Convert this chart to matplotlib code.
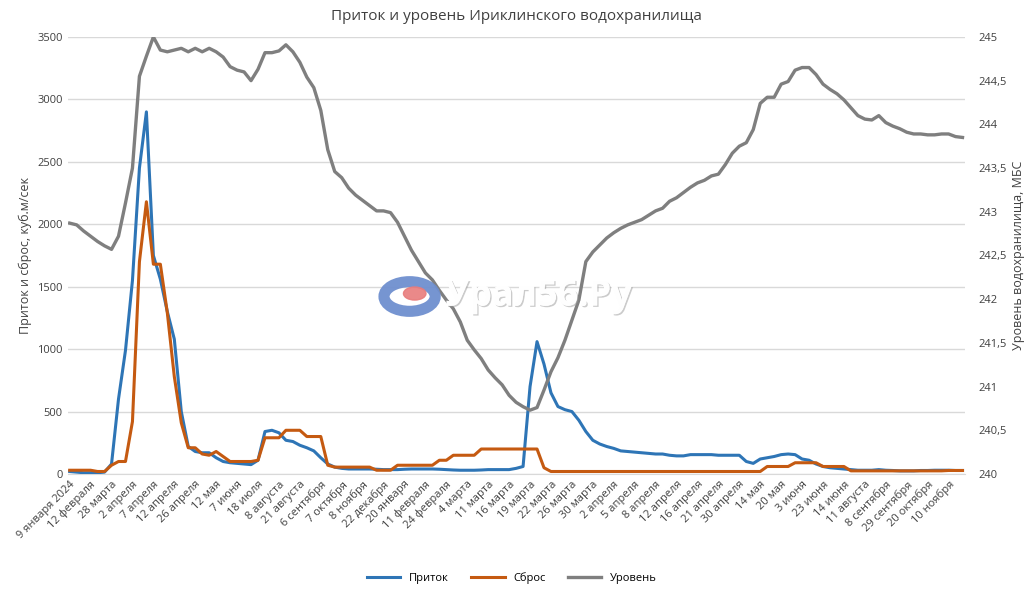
import matplotlib
matplotlib.use("Agg")
import matplotlib.pyplot as plt
import matplotlib.patheffects as pe
import numpy as np

plt.rcParams['font.family'] = ['Open Sans', 'DejaVu Sans']

tick_labels = ["9 января 2024", "12 февраля", "28 марта", "2 апреля", "7 апреля", "12 апреля", "26 апреля",
    "12 мая", "7 июня", "18 июля", "8 августа", "21 августа", "6 сентября", "7 октября", "8 ноября",
    "22 декабря", "20 января", "11 февраля", "24 февраля", "4 марта", "11 марта", "16 марта", "19 марта",
    "22 марта", "26 марта", "30 марта", "2 апреля", "5 апреля", "8 апреля", "12 апреля", "16 апреля",
    "21 апреля", "30 апреля", "14 мая", "20 мая", "3 июня", "23 июня", "14 июня", "11 августа",
    "8 сентября", "29 сентября", "20 октября", "10 ноября"]

inflow = [20, 15, 10, 10, 10, 15, 80, 600, 990, 1550, 2450, 2900, 1750, 1560, 1300, 1080, 500, 220, 180, 170,
    170, 130, 100, 90, 85, 80, 75, 110, 340, 350, 330, 270, 260, 230, 210, 185, 130, 80, 55, 45,
    40, 40, 40, 40, 38, 35, 35, 35, 38, 40, 40, 40, 40, 38, 35, 32, 30, 30, 30, 32, 35, 35, 35, 35,
    45, 60, 700, 1060, 880, 650, 540, 515, 500, 430, 340, 270, 240, 220, 205, 185, 180, 175, 170, 165,
    160, 160, 150, 145, 145, 155, 155, 155, 155, 150, 150, 150, 150, 100, 85, 120, 130, 140, 155, 160,
    155, 120, 110, 80, 60, 50, 45, 40, 35, 30, 30, 30, 35, 30, 28, 25, 25, 25, 28, 28, 30, 30, 30, 28, 28]

discharge = [30, 30, 30, 30, 20, 20, 70, 100, 100, 420, 1700, 2180, 1680, 1680, 1290, 780, 410, 210, 210, 160,
    150, 180, 140, 100, 100, 100, 100, 110, 290, 290, 290, 350, 350, 350, 300, 300, 300, 70, 55, 55,
    55, 55, 55, 55, 30, 30, 30, 70, 70, 70, 70, 70, 70, 110, 110, 150, 150, 150, 150, 200,
    200, 200, 200, 200, 200, 200, 200, 200, 50, 20, 20, 20, 20, 20, 20, 20, 20, 20, 20, 20,
    20, 20, 20, 20, 20, 20, 20, 20, 20, 20, 20, 20, 20, 20, 20, 20, 20, 20, 20, 20,
    60, 60, 60, 60, 90, 90, 90, 90, 60, 60, 60, 60, 25, 25, 25, 25, 25, 25, 25, 25,
    25, 25, 25, 25, 25, 25, 28, 28, 28]

level = [242.87, 242.85, 242.78, 242.72, 242.66, 242.61, 242.57, 242.72, 243.1, 243.5, 244.55, 244.78, 245.0,
    244.85, 244.83, 244.85, 244.87, 244.83, 244.87, 244.83, 244.87, 244.83, 244.77, 244.66, 244.62, 244.6,
    244.5, 244.63, 244.82, 244.82, 244.84, 244.91, 244.83, 244.71, 244.54, 244.42, 244.16, 243.71, 243.46,
    243.39, 243.27, 243.19, 243.13, 243.07, 243.01, 243.01, 242.99, 242.88, 242.72, 242.56, 242.43, 242.3,
    242.22, 242.1, 241.99, 241.89, 241.74, 241.53, 241.42, 241.32, 241.19, 241.1, 241.02, 240.9, 240.82,
    240.77, 240.73, 240.76, 240.96, 241.17, 241.33, 241.53, 241.76, 241.99, 242.43, 242.54, 242.62, 242.7,
    242.76, 242.81, 242.85, 242.88, 242.91, 242.96, 243.01, 243.04, 243.12, 243.16, 243.22, 243.28, 243.33,
    243.36, 243.41, 243.43, 243.54, 243.67, 243.75, 243.79, 243.94, 244.24, 244.31, 244.31, 244.46, 244.49,
    244.62, 244.65, 244.65, 244.57, 244.46, 244.4, 244.35, 244.28, 244.19, 244.1, 244.06, 244.05, 244.1,
    244.02, 243.98, 243.95, 243.91, 243.89, 243.89, 243.88, 243.88, 243.89, 243.89, 243.86, 243.85]

x = np.arange(len(level))

fig = plt.figure(figsize=(10.24, 5.93), dpi=100)
ax = fig.add_axes([0.066, 0.2007, 0.876, 0.737])
ax2 = ax.twinx()

c_in, c_out, c_lv = '#2E75B6', '#C55A11', '#7F7F7F'
ax.plot(x, inflow, color=c_in, lw=2.2, label='Приток', zorder=3)
ax.plot(x, discharge, color=c_out, lw=2.2, label='Сброс', zorder=3)
ax2.plot(x, level, color=c_lv, lw=2.4, label='Уровень')

ax.set_ylim(0, 3500)
ax.set_yticks(np.arange(0, 3501, 500))
ax2.set_ylim(240, 245)
ax2.set_yticks(np.arange(240, 245.01, 0.5))
ax2.set_yticklabels([f"{v:g}".replace('.', ',') for v in np.arange(240, 245.01, 0.5)])
ax.set_xlim(-0.3, len(x) - 0.7)
ax.set_xticks(np.arange(0, len(x), 3)[:len(tick_labels)])
ax.set_xticklabels(tick_labels, rotation=45, ha='right', rotation_mode='anchor', fontsize=8, color='#404040')
ax.grid(axis='y', color='#D9D9D9', lw=1)
ax.set_axisbelow(True)
for a in (ax, ax2):
    for s in a.spines.values():
        s.set_visible(False)
    a.tick_params(length=0, labelsize=8, colors='#404040')
ax2.tick_params(pad=10)
ax.spines['bottom'].set_visible(True)
ax.spines['bottom'].set_color('#D9D9D9')
ax.set_ylabel('Приток и сброс, куб.м/сек', fontsize=9, color='#404040')
ax2.set_ylabel('Уровень водохранилища, МБС', fontsize=9, color='#404040')
ax.set_title('Приток и уровень Ириклинского водохранилища', fontsize=11, color='#404040', pad=12)

h1, l1 = ax.get_legend_handles_labels()
h2, l2 = ax2.get_legend_handles_labels()
fig.legend(h1 + h2, l1 + l2, loc='center', bbox_to_anchor=(0.5, 0.025), ncol=3, frameon=False, fontsize=8,
           handlelength=3, columnspacing=2)

circ = plt.Circle((0.4, 0.5), 0.025, transform=fig.transFigure, fill=False, ec='#6F8FCF', lw=8, alpha=0.95)
fig.add_artist(circ)
fig.add_artist(plt.Circle((0.405, 0.505), 0.011, transform=fig.transFigure, color='#E87C7C', alpha=0.9))
fig.text(0.435, 0.5, 'Урал56.Ру', fontsize=26, color='white', alpha=0.95, va='center', ha='left',
         fontweight='bold',
         path_effects=[pe.withSimplePatchShadow(offset=(1, -1), shadow_rgbFace='#999999', alpha=0.5), pe.Normal()])

fig.savefig('out.png', dpi=100)
